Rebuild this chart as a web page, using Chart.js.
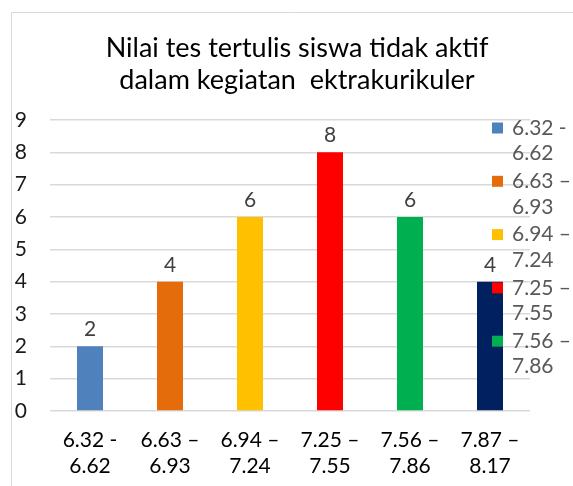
<!DOCTYPE html>
<html>
<head>
<meta charset="utf-8">
<script src="https://cdn.jsdelivr.net/npm/chart.js@4"></script>
<style>
  html, body { margin: 0; padding: 0; background: #fff; }
</style>
</head>
<body>
<canvas id="nilaiChart" width="573" height="486"></canvas>
<script>
"use strict";

// Data
const categories = [
  ["6.32 -", "6.62"],
  ["6.63 –", "6.93"],
  ["6.94 –", "7.24"],
  ["7.25 –", "7.55"],
  ["7.56 –", "7.86"],
  ["7.87 –", "8.17"],
];
const counts = [2, 4, 6, 8, 6, 4];
const barColors = ["#4f81bd", "#e46c0a", "#ffc000", "#ff0000", "#00b050", "#002060"];
const yTicks = [0, 1, 2, 3, 4, 5, 6, 7, 8, 9];
const titleLines = ["Nilai tes tertulis siswa tidak aktif", "dalam kegiatan  ektrakurikuler"];

const FONT = "Lato, 'Open Sans', sans-serif";

// Frame + title
const framePlugin = {
  id: "frame",
  beforeDraw(chart) {
    const ctx = chart.ctx;
    ctx.save();
    ctx.fillStyle = "#fff";
    ctx.fillRect(0, 0, chart.width, chart.height);
    ctx.strokeStyle = "#d9d9d9";
    ctx.lineWidth = 1;
    ctx.beginPath();
    ctx.moveTo(11.5, chart.height);
    ctx.lineTo(11.5, 12.5);
    ctx.lineTo(chart.width, 12.5);
    ctx.stroke();

    ctx.fillStyle = "#000";
    ctx.font = "27px " + FONT;
    ctx.textAlign = "center";
    ctx.textBaseline = "middle";
    titleLines.forEach((t, i) => ctx.fillText(t, 297, 48 + i * 32));
    ctx.restore();
  },
};

// Value labels above the bars
const valueLabels = {
  id: "valueLabels",
  afterDatasetsDraw(chart) {
    const ctx = chart.ctx;
    const meta = chart.getDatasetMeta(0);
    ctx.save();
    ctx.fillStyle = "#404040";
    ctx.font = "21px " + FONT;
    ctx.textAlign = "center";
    ctx.textBaseline = "alphabetic";
    meta.data.forEach((bar, i) => {
      ctx.fillText(String(counts[i]), bar.x, bar.y - 10);
    });
    ctx.restore();
  },
};

// Excel-like legend, two lines per entry, overlapping the plot and cut off at the bottom
const sideLegend = {
  id: "sideLegend",
  afterDraw(chart) {
    const ctx = chart.ctx;
    const boxX = chart.chartArea.right - 38;
    const textX = boxX + 20;
    const step = 53.3;
    const lineGap = 25.5;
    const maxBottom = 385;
    ctx.save();
    ctx.font = "21px " + FONT;
    ctx.textAlign = "left";
    ctx.textBaseline = "middle";
    categories.forEach((lines, i) => {
      const y = 128 + i * step;
      if (y + lineGap + 12 > maxBottom) return;
      ctx.fillStyle = barColors[i];
      ctx.fillRect(boxX, y - 5.5, 11, 11);
      ctx.fillStyle = "#595959";
      lines.forEach((l, j) => ctx.fillText(l, textX, y + j * lineGap));
    });
    ctx.restore();
  },
};

const ctx = document.getElementById("nilaiChart").getContext("2d");

new Chart(ctx, {
  type: "bar",
  data: {
    labels: categories,
    datasets: [
      {
        data: counts,
        backgroundColor: barColors,
        barPercentage: 0.325,
        categoryPercentage: 1,
      },
    ],
  },
  options: {
    responsive: false,
    animation: false,
    layout: {
      padding: { top: 120, right: 43, left: 0, bottom: 0 },
    },
    plugins: {
      legend: { display: false },
      tooltip: { enabled: false },
    },
    scales: {
      x: {
        grid: { display: false, drawTicks: false },
        border: { display: false },
        ticks: {
          color: "#000",
          padding: 16,
          maxRotation: 0,
          autoSkip: false,
          font: { family: FONT, size: 21, lineHeight: 1.24 },
        },
        afterFit(scale) {
          scale.height = 75;
        },
      },
      y: {
        min: yTicks[0],
        max: yTicks[yTicks.length - 1],
        grid: { color: "#d9d9d9", lineWidth: 1.5, drawTicks: false },
        border: { display: false },
        ticks: {
          stepSize: 1,
          color: "#1a1a1a",
          padding: 23,
          font: { family: FONT, size: 21 },
        },
        afterFit(scale) {
          scale.width = 50;
        },
      },
    },
  },
  plugins: [framePlugin, valueLabels, sideLegend],
});
</script>
</body>
</html>
